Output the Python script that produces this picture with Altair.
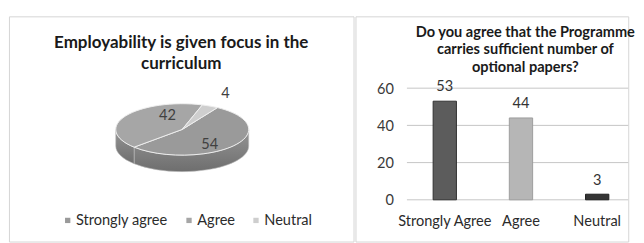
import altair as alt
import pandas as pd

# ---------------- data ----------------
pie_cats = ["Strongly agree", "Agree", "Neutral"]
pie_vals = [54, 42, 4]
pie_title = ["Employability is given focus in the", "curriculum"]

bar_cats = ["Strongly Agree", "Agree", "Neutral"]
bar_vals = [53, 44, 3]
bar_title = ["Do you agree that the Programme", "carries sufficient number of", "optional papers?"]
y_ticks = [0, 20, 40, 60]

# ---------------- style ----------------
FONT = "Lato"
pie_colors = ["#9a9a9a", "#a6a6a6", "#cecece"]
bar_fill = ["#5c5c5c", "#b6b6b6", "#353535"]
bar_stroke = ["#2e2e2e", "#9c9c9c", "#1e1e1e"]
wall_fill = alt.LinearGradient(
    gradient="linear", x1=0, x2=0, y1=0, y2=1,
    stops=[alt.GradientStop(color="#959595", offset=0), alt.GradientStop(color="#6e6e6e", offset=1)],
)

LW, RW, H = 355, 281, 232
CX, CY, RX, RY, DEPTH = 178.5, 116.5, 68.5, 26.5, 17
ROT = 32

# ---------------- pie (3-D look, elliptical) ----------------
pie_df = pd.DataFrame({"cat": pie_cats, "val": pie_vals, "order": list(range(len(pie_cats)))})


def px(a):
    return f"(round({RX}*sin({a})*1000)/1000)"


def py(a, d=0):
    return f"(round(({d} - {RY}*cos({a}))*1000)/1000)"


base = (
    alt.Chart(pie_df)
    .transform_window(cum="sum(val)", sort=[alt.SortField("order")], frame=[None, 0])
    .transform_joinaggregate(total="sum(val)")
    .transform_calculate(
        a0=f"({ROT} + 360*(datum.cum - datum.val)/datum.total)*PI/180",
        a1=f"({ROT} + 360*datum.cum/datum.total)*PI/180",
    )
)

top_path = (
    "'M0,0L' + " + px("datum.a0") + " + ',' + " + py("datum.a0")
    + f" + 'A{RX},{RY} 0 ' + (datum.a1 - datum.a0 > PI ? '1' : '0') + ' 1 ' + "
    + px("datum.a1") + " + ',' + " + py("datum.a1") + " + 'Z'"
)
wall_path = (
    "'M' + " + px("datum.w0") + " + ',' + " + py("datum.w0")
    + f" + 'A{RX},{RY} 0 0 1 ' + " + px("datum.w1") + " + ',' + " + py("datum.w1")
    + " + 'L' + " + px("datum.w1") + " + ',' + " + py("datum.w1", DEPTH)
    + f" + 'A{RX},{RY} 0 0 0 ' + " + px("datum.w0") + " + ',' + " + py("datum.w0", DEPTH) + " + 'Z'"
)

wall = (
    base.transform_calculate(w0="max(datum.a0, PI/2)", w1="min(datum.a1, 3*PI/2)")
    .transform_filter("datum.w1 > datum.w0")
    .transform_calculate(path=wall_path)
    .mark_point(filled=True, opacity=1, fill=wall_fill, stroke="#bdbdbd", strokeWidth=0.6)
    .encode(
        x=alt.value(CX), y=alt.value(CY),
        shape=alt.Shape("path:N", scale=None),
        size=alt.value(4),
    )
)

top = (
    base.transform_calculate(path=top_path)
    .mark_point(filled=True, opacity=1, stroke="#eeeeee", strokeWidth=1)
    .encode(
        x=alt.value(CX), y=alt.value(CY),
        shape=alt.Shape("path:N", scale=None),
        size=alt.value(4),
        color=alt.Color(
            "cat:N", sort=pie_cats,
            scale=alt.Scale(domain=pie_cats, range=pie_colors),
            legend=alt.Legend(
                title=None, orient="none", legendX=53, legendY=202.5, direction="horizontal",
                symbolType="square", symbolSize=30, symbolStrokeWidth=0, symbolOpacity=1,
                labelFont=FONT, labelFontSize=15, labelColor="#2b2b2b", labelOffset=1,
                columnPadding=14, padding=0,
            ),
        ),
    )
)

pie_labels = (
    base.transform_calculate(
        mid="(datum.a0 + datum.a1)/2",
        inside="datum.val/datum.total >= 0.1",
        la="datum.mid + (datum.inside ? 25*PI/180 : 0)",
        lf="datum.inside ? 0.65 : 1.55",
        lx=f"{CX} + (datum.inside ? 9 : 0) + {RX}*datum.lf*sin(datum.la)",
        ly=f"{CY} - {RY}*datum.lf*cos(datum.la)",
    )
    .mark_text(font=FONT, fontSize=15, color="#404040")
    .encode(
        x=alt.X("lx:Q", scale=None, axis=None),
        y=alt.Y("ly:Q", scale=None, axis=None),
        text="val:Q",
    )
)

pie_title_layers = [
    alt.Chart(pd.DataFrame({"t": [line]}))
    .mark_text(font=FONT, fontSize=17.5, fontWeight="bold", color="#1a1a1a")
    .encode(x=alt.value(177.5), y=alt.value(28 + 21 * i), text="t:N")
    for i, line in enumerate(pie_title)
]

left = alt.layer(wall, top, pie_labels, *pie_title_layers).properties(width=LW, height=H)

# ---------------- bar chart ----------------
bar_df = pd.DataFrame({"cat": bar_cats, "val": bar_vals})
grid_df = pd.DataFrame({"v": y_ticks})

y_scale = alt.Scale(domain=[0, 60], range=[189, 74], nice=False, zero=True)
y_axis = alt.Axis(
    title=None, values=y_ticks, offset=-53, domain=False, ticks=False, tickSize=0,
    labelPadding=14, labelFont=FONT, labelFontSize=15, labelColor="#3a3a3a", grid=False,
)

bx = alt.X(
    "cat:N", sort=bar_cats,
    scale=alt.Scale(range=[52.75, 288.25], paddingInner=0.694, paddingOuter=0.347),
    axis=alt.Axis(
        title=None, orient="bottom", offset=-43, labelAngle=0, domain=False, ticks=False,
        tickSize=0, labelPadding=14, labelFont=FONT, labelFontSize=15, labelColor="#2b2b2b",
        grid=False,
    ),
)

gridlines = (
    alt.Chart(grid_df)
    .mark_rule(color="#c4c4c4", strokeWidth=1)
    .encode(y=alt.Y("v:Q", scale=y_scale, axis=y_axis), x=alt.value(53), x2=alt.value(RW))
)

bars = (
    alt.Chart(bar_df)
    .mark_bar(strokeWidth=1)
    .encode(
        x=bx, y=alt.Y("val:Q", scale=y_scale, axis=y_axis),
        color=alt.Color("cat:N", sort=bar_cats, scale=alt.Scale(domain=bar_cats, range=bar_fill), legend=None),
        stroke=alt.Stroke("cat:N", sort=bar_cats, scale=alt.Scale(domain=bar_cats, range=bar_stroke), legend=None),
    )
)
bar_labels = (
    alt.Chart(bar_df)
    .mark_text(font=FONT, fontSize=15, color="#333333", baseline="bottom", dy=-7)
    .encode(x=alt.X("cat:N", sort=bar_cats), y="val:Q", text="val:Q")
)
bar_title_layers = [
    alt.Chart(pd.DataFrame({"t": [line]}))
    .mark_text(font=FONT, fontSize=15, fontWeight="bold", color="#1a1a1a")
    .encode(x=alt.value(175), y=alt.value(16 + 18 * i), text="t:N")
    for i, line in enumerate(bar_title)
]

right = alt.layer(gridlines, bars, bar_labels, *bar_title_layers).properties(width=RW, height=H)

chart = (
    alt.hconcat(left, right, spacing=0)
    .resolve_scale(color="independent", stroke="independent")
    .resolve_legend(color="independent", stroke="independent")
    .properties(padding={"left": 0, "top": 4, "right": 0, "bottom": 0}, background="white")
    .configure(font=FONT)
    .configure_view(stroke="#d4d4d4", strokeWidth=1)
)

chart.save("out.html", embed_options={"renderer": "svg", "actions": False})
